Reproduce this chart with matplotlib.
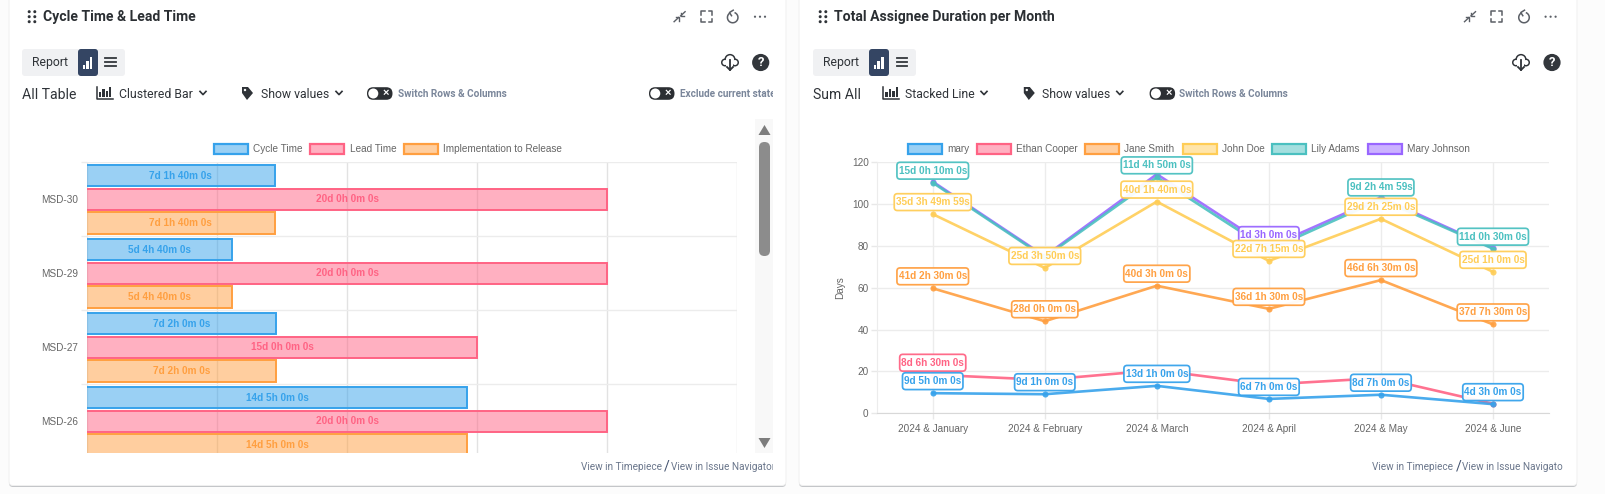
import matplotlib
matplotlib.use("Agg")
import matplotlib.pyplot as plt
from matplotlib.patches import FancyBboxPatch, Rectangle, Polygon, Circle, Arc, BoxStyle
from matplotlib.colors import to_rgba

W, H = 1606, 494

# chart colours
BLUE = "#36a2eb"
PINK = "#ff6384"
ORANGE = "#ff9f40"
YELLOW = "#ffcd56"
TEAL = "#4bc0c0"
PURPLE = "#9966ff"

# clustered bar data
issues = ["MSD-30", "MSD-29", "MSD-27", "MSD-26"]
cycle_time = ["7d 1h 40m 0s", "5d 4h 40m 0s", "7d 2h 0m 0s", "14d 5h 0m 0s"]
lead_time = ["20d 0h 0m 0s", "20d 0h 0m 0s", "15d 0h 0m 0s", "20d 0h 0m 0s"]
impl_release = ["7d 1h 40m 0s", "5d 4h 40m 0s", "7d 2h 0m 0s", "14d 5h 0m 0s"]

# stacked line data
months = ["2024 & January", "2024 & February", "2024 & March", "2024 & April", "2024 & May", "2024 & June"]
mary = ["9d 5h 0m 0s", "9d 1h 0m 0s", "13d 1h 0m 0s", "6d 7h 0m 0s", "8d 7h 0m 0s", "4d 3h 0m 0s"]
ethan = ["8d 6h 30m 0s", "6d 7h 0m 0s", "7d 4h 0m 0s", "6d 7h 0m 0s", "8d 0h 0m 0s", "0d 1h 30m 0s"]
jane = ["41d 2h 30m 0s", "28d 0h 0m 0s", "40d 3h 0m 0s", "36d 1h 30m 0s", "46d 6h 30m 0s", "37d 7h 30m 0s"]
john = ["35d 3h 49m 59s", "25d 3h 50m 0s", "40d 1h 40m 0s", "22d 7h 15m 0s", "29d 2h 25m 0s", "25d 1h 0m 0s"]
lily = ["15d 0h 10m 0s", "5d 1h 0m 0s", "11d 4h 50m 0s", "5d 2h 0m 0s", "9d 2h 4m 59s", "11d 0h 30m 0s"]
mary_j = ["0d 4h 0m 0s", "0d 4h 0m 0s", "1d 4h 0m 0s", "1d 3h 0m 0s", "1d 0h 0m 0s", "0d 2h 0m 0s"]

# which months print a value box, per series
mary_show = [1, 1, 1, 1, 1, 1]
ethan_show = [1, 0, 0, 0, 0, 0]
jane_show = [1, 1, 1, 1, 1, 1]
john_show = [1, 1, 1, 1, 1, 1]
lily_show = [1, 0, 1, 0, 1, 1]
mary_j_show = [0, 0, 0, 1, 0, 0]

CHART_FONT = ["Liberation Sans", "DejaVu Sans"]
UI_FONT = ["Roboto", "DejaVu Sans"]
DARK = "#2f3338"


def px(v):
    # css pixels to points at 100 dpi
    return v * 0.72


def to_days(text):
    # durations are in 8 hour working days
    d, h, m, s = [int(p[:-1]) for p in text.split()]
    return d + (h + m / 60 + s / 3600) / 8


def px_axes(l, t, r, b, **kw):
    return fig.add_axes([l / W, 1 - b / H, (r - l) / W, (b - t) / H], **kw)


def value_box(x0, y0, width, height, mutation_size):
    # wider vertical padding than horizontal, sizes in pixels
    return BoxStyle.Round(pad=0, rounding_size=3.2)(x0 - 1.6, y0 - 3.4, width + 3.2, height + 6.8, 1)


fig = plt.figure(figsize=(W / 100, H / 100), dpi=100, facecolor="#fcfcfc")

# full size layer for the dashboard furniture
bg = fig.add_axes([0, 0, 1, 1], zorder=0)
bg.set_xlim(0, W)
bg.set_ylim(H, 0)
bg.axis("off")


def ui(x, y, s, size=12.3, color=DARK, ha="left", weight="normal", clip=None, family=UI_FONT):
    t = bg.text(x, y, s, fontsize=px(size), color=color, ha=ha, va="center", fontweight=weight, family=family)
    if clip:
        t.set_clip_on(True)
        t.set_clip_path(Rectangle((0, 0), clip, H, transform=bg.transData))
    return t


def round_box(x0, y0, x1, y1, r, fc, ec="none", lw=0, z=1):
    bg.add_patch(FancyBboxPatch((x0 + r, y0 + r), x1 - x0 - 2 * r, y1 - y0 - 2 * r,
                                boxstyle=f"round,pad={r},rounding_size={r}", fc=fc, ec=ec, lw=lw, zorder=z))


def bar_icon(x, y, color, w=2.6):
    for i, h in enumerate([4, 8, 12]):
        bg.add_patch(Rectangle((x + i * (w + 1), y + 6 - h), w, h, fc=color, ec="none", zorder=3))


def toggle(x0, x1, y):
    round_box(x0, y - 6.3, x1, y + 6.3, 6.2, "#2c2f33", z=2)
    bg.add_patch(Circle((x0 + 6.3, y), 5, fc="white", ec="none", zorder=3))
    ui(x1 - 6.5, y - 0.3, "×", size=11, color="white", ha="center", weight="bold", family=CHART_FONT).set_zorder(3)


def chevron(x, y):
    bg.plot([x - 3, x, x + 3], [y - 1.6, y + 1.6, y - 1.6], color=DARK, lw=1.2, zorder=3)


def tag_icon(x, y):
    bg.add_patch(Polygon([(x - 5, y - 7), (x + 1, y - 7), (x + 6, y - 1), (x, y + 6), (x - 5, y - 1)],
                         fc=DARK, ec="none", zorder=3))
    bg.add_patch(Circle((x - 2, y - 4), 1.2, fc="white", ec="none", zorder=4))


def chart_icon(x, y):
    bg.plot([x - 8, x - 8, x + 8], [y - 6, y + 6, y + 6], color=DARK, lw=1.1, zorder=3)
    for i, h in enumerate([5, 8, 6, 10]):
        bg.add_patch(Rectangle((x - 6 + i * 3.4, y + 4.5 - h), 2.3, h, fc=DARK, ec="none", zorder=3))


def header_icons(xs, y=16.7):
    c = "#5b5f66"
    a, b, d, e = xs
    # collapse arrows
    bg.plot([a + 5.5, a + 1], [y - 5, y - 0.8], color=c, lw=1, zorder=3)
    bg.plot([a + 1, a + 1, a + 4], [y - 4, y - 0.8, y - 0.8], color=c, lw=1, zorder=3)
    bg.plot([a - 5.5, a - 1], [y + 5, y + 0.8], color=c, lw=1, zorder=3)
    bg.plot([a - 1, a - 1, a - 4], [y + 4, y + 0.8, y + 0.8], color=c, lw=1, zorder=3)
    # fullscreen corners
    for sx in (-1, 1):
        for sy in (-1, 1):
            bg.plot([b + sx * 2, b + sx * 5.5, b + sx * 5.5], [y + sy * 5.5, y + sy * 5.5, y + sy * 2],
                    color=c, lw=1.1, zorder=3)
    # reset arrow
    bg.add_patch(Arc((d, y + 0.8), 10.5, 10.5, theta1=-70, theta2=235, color=c, lw=1.1, zorder=3))
    bg.plot([d + 0.5, d - 3.2, d - 1.2], [y - 6.5, y - 4.2, y - 1], color=c, lw=1.1, zorder=3)
    # more dots
    for dx in (-5, 0, 5):
        bg.add_patch(Circle((e + dx, y), 1.1, fc=c, ec="none", zorder=3))


def drag_dots(x, y=16.7):
    for dx in (-2.8, 2.8):
        for dy in (-5, 0, 5):
            bg.add_patch(Circle((x + dx, y + dy), 1.5, fc=DARK, ec="none", zorder=3))


def cloud_icon(x, y):
    # outline made from dark discs with white discs on top
    lobes = [(x - 5, y + 0.5, 4), (x + 5, y + 0.5, 4), (x, y - 2.5, 5.6)]
    for cx, cy, r in lobes:
        bg.add_patch(Circle((cx, cy), r, fc=DARK, ec="none", zorder=3))
    for cx, cy, r in lobes:
        bg.add_patch(Circle((cx, cy), r - 1.5, fc="white", ec="none", zorder=4))
    bg.add_patch(Rectangle((x - 3.5, y - 2), 7, 6.6, fc="white", ec="none", zorder=4))
    bg.plot([x, x], [y - 2, y + 8], color=DARK, lw=1.3, zorder=5)
    bg.plot([x - 3, x, x + 3], [y + 5, y + 8, y + 5], color=DARK, lw=1.3, zorder=5)


def panel(x0, x1, title, title_x, dots_x, icons, box_x, btn_x, ham_x, name, kind, kind_x, icon_x, chev1, tag_x,
          show_x, chev2, tog, sw_x, cloud_x, help_x, foot_x, clip):
    # soft edge all round, heavier along the bottom
    round_box(x0, -20, x1, 487, 4, "#c4c6c9", z=0.5)
    round_box(x0, -20, x1, 485.5, 4, "white", ec="#f0f0f0", lw=0.7, z=0.6)
    drag_dots(dots_x)
    ui(title_x, 16.7, title, size=14, color="#2b2f33", weight="bold")
    header_icons(icons)

    round_box(box_x, 49, box_x + 103, 76, 3, "#f0f1f3")
    ui(box_x + 28, 62.8, "Report", ha="center")
    round_box(btn_x, 49, btn_x + 20, 76, 3, "#344563", z=2)
    bar_icon(btn_x + 4.7, 63, "white")
    for dy in (-4, 0, 4):
        bg.plot([ham_x - 5.2, ham_x + 5.2], [62.5 + dy, 62.5 + dy], color="#33373c", lw=1.3, zorder=3)

    ui(box_x, 94.8, name, size=14)
    chart_icon(icon_x, 93)
    ui(kind_x, 94, kind)
    chevron(chev1, 93)
    tag_icon(tag_x, 94)
    ui(show_x, 94, "Show values")
    chevron(chev2, 93)
    toggle(tog, tog + 25.5, 93.5)
    ui(sw_x, 93.7, "Switch Rows & Columns", size=10, color="#7a869a", weight="bold")

    cloud_icon(cloud_x, 62)
    bg.add_patch(Circle((help_x, 62.5), 8.6, fc="#33373c", ec="none", zorder=3))
    ui(help_x, 62.2, "?", size=13, color="white", ha="center", weight="bold").set_zorder(4)

    ui(foot_x, 466.7, "View in Timepiece", size=10, color="#6b778c")
    ui(foot_x + 83.5, 466, "/", size=14, color="#42526e")
    ui(foot_x + 90, 466.7, "View in Issue Navigator", size=10, color="#6b778c", clip=clip)


def legend(items, y=149):
    for x0, color, label in items:
        bg.add_patch(Rectangle((x0, y - 5.3), 34, 10.6, fc=to_rgba(color, 0.5), ec=color, lw=1.6, zorder=3))
        ui(x0 + 39.5, y, label, size=10, color="#666666", family=CHART_FONT)


panel(9, 786, "Cycle Time & Lead Time", 43.4, 32, (679.6, 706.6, 732.7, 760), 22, 78, 110.7, "All Table",
      "Clustered Bar", 119, 105, 203, 247, 261, 339, 367, 398, 730, 760.7, 580.6, 773)
panel(799, 1577, "Total Assignee Duration per Month", 834.4, 823, (1470, 1496.7, 1524, 1550.6), 813, 869, 901.8, "Sum All",
      "Stacked Line", 905.4, 891.5, 984, 1028.8, 1042, 1119.8, 1149.6, 1179.4, 1521, 1552, 1372, 1563)

# second toggle only on the left panel
toggle(649, 674.5, 93.5)
ui(679.6, 93.7, "Exclude current state", size=10, color="#7a869a", weight="bold", clip=773)

# scrollbar beside the bar chart
bg.add_patch(Rectangle((755, 119), 18, 333.7, fc="#f8f8f8", ec="none", zorder=1))
round_box(759, 142, 770, 256, 5.4, "#8c8c8c", z=2)
bg.add_patch(Polygon([(758.5, 135), (764.5, 125), (770.5, 135)], fc="#7d7d7d", ec="none", zorder=2))
bg.add_patch(Polygon([(758.5, 438), (764.5, 448), (770.5, 438)], fc="#7d7d7d", ec="none", zorder=2))

legend([(214, BLUE, "Cycle Time"), (310.5, PINK, "Lead Time"), (404, ORANGE, "Implementation to Release")])
legend([(908, BLUE, "mary"), (977, PINK, "Ethan Cooper"), (1085, ORANGE, "Jane Smith"), (1182.7, YELLOW, "John Doe"),
        (1272, TEAL, "Lily Adams"), (1367.8, PURPLE, "Mary Johnson")])

# clustered bars, scrolled so the last group is cut off at the bottom
ax = px_axes(87.2, 162.3, 737.2, 452.7, zorder=2)
ax.patch.set_alpha(0)
ax.set_xlim(0, 25)
ax.set_ylim(3.424, -0.5)
ax.set_xticks([0, 5, 10, 15, 20, 25])
ax.set_yticks([0, 1, 2, 3])
ax.set_yticklabels(issues, family=CHART_FONT, fontsize=px(10), color="#666666")
ax.set_yticks([-0.5, 0.5, 1.5, 2.5], minor=True)
ax.tick_params(axis="y", which="major", length=0, pad=px(9))
ax.tick_params(axis="y", which="minor", length=px(6.5), width=1, color="#ececec")
ax.tick_params(axis="x", length=0, labelbottom=False)
ax.grid(axis="x", color="#e2e2e2", lw=1, zorder=0)
ax.grid(axis="y", which="minor", color="#ececec", lw=1, zorder=0)
for s in ax.spines.values():
    s.set_visible(False)

step = 0.32
bar_h = 0.288
for off, vals, color in [(-step, cycle_time, BLUE), (0, lead_time, PINK), (step, impl_release, ORANGE)]:
    for i, text in enumerate(vals):
        v = to_days(text)
        y = i + off
        ax.barh(y, v, height=bar_h, color=color, alpha=0.5, lw=0, zorder=2)
        # outline without the edge on the axis side
        ax.plot([0, v, v, 0], [y - bar_h / 2, y - bar_h / 2, y + bar_h / 2, y + bar_h / 2], color=color, lw=1.4,
                zorder=3, solid_joinstyle="miter")
        ax.text(v / 2, y, text, color=color, ha="center", va="center", fontsize=px(10), fontweight="bold",
                family=CHART_FONT, zorder=4, clip_on=True)

# stacked lines
ax2 = px_axes(876.7, 162.3, 1549, 413.3, zorder=2)
ax2.patch.set_alpha(0)
ax2.set_xlim(-0.5, 5.5)
ax2.set_ylim(0, 120)
ax2.set_xticks(range(len(months)))
ax2.set_xticklabels(months, family=CHART_FONT, fontsize=px(10), color="#666666")
ax2.set_yticks(range(0, 121, 20))
ax2.set_yticklabels(range(0, 121, 20), family=CHART_FONT, fontsize=px(10), color="#666666")
ax2.set_ylabel("Days", family=CHART_FONT, fontsize=px(10), color="#666666", labelpad=px(7))
ax2.tick_params(length=px(6), width=1, color="#e8e8e8", pad=px(2))
ax2.tick_params(axis="x", pad=px(5))
ax2.grid(color="#ececec", lw=1, zorder=0)
for name, s in ax2.spines.items():
    s.set_visible(name in ("left", "bottom"))
    s.set_color("#d8d8d8" if name == "bottom" else "#ececec")

series = [(mary, mary_show, BLUE), (ethan, ethan_show, PINK), (jane, jane_show, ORANGE),
          (john, john_show, YELLOW), (lily, lily_show, TEAL), (mary_j, mary_j_show, PURPLE)]
totals = [0.0] * len(months)
stacked = []
for vals, show, color in series:
    totals = [t + to_days(v) for t, v in zip(totals, vals)]
    stacked.append((totals, vals, show, color))

# the first series ends up on top, same for its boxes
xs = list(range(len(months)))
for n, (tot, vals, show, color) in enumerate(reversed(stacked)):
    ax2.plot(xs, tot, color=color, alpha=0.9, lw=1.9, marker="o", ms=4.4, mew=0, zorder=3 + n * 0.1)
for n, (tot, vals, show, color) in enumerate(reversed(stacked)):
    for x, t, text, on in zip(xs, tot, vals, show):
        if on:
            ax2.annotate(text, (x, t), xytext=(0, px(12)), textcoords="offset points", ha="center", va="center",
                         color=color, fontsize=px(10), fontweight="bold", family=CHART_FONT, zorder=5 + n * 0.1,
                         bbox=dict(boxstyle=value_box, fc="white", ec=color, lw=1.25, alpha=0.95),
                         annotation_clip=False)

fig.savefig("out.png", dpi=100, facecolor=fig.get_facecolor())
